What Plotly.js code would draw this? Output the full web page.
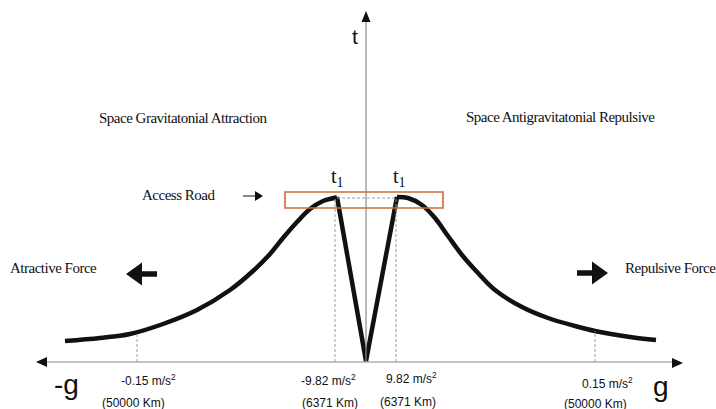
<!DOCTYPE html>
<html><head><meta charset="utf-8">
<script src="https://cdn.plot.ly/plotly-3.0.1.min.js"></script>
<style>html,body{margin:0;padding:0;background:#fff}#chart{width:716px;height:409px}</style>
</head><body><div id="chart"></div>
<script>
// x: position along the g axis (left = attraction, right = repulsion), t: time height
const leftCurveX  = [-301,-266,-236,-203,-169,-136,-113,-96,-83,-69,-56,-43,-32,-29];
const leftCurveT  = [21,24,28,38,52,72,91,108,124,140,153,161,164,165];
const accessX     = [-29, 0, 31];
const accessT     = [165, 1, 165];
const rightCurveX = [31,42,56,69,82,96,112,129,156,182,209,229,264,290];
const rightCurveT = [165,164,157,144,126,107,89,72,55,44,36,31,25,22];

// tick marks on the g axis
const tickX      = [-229, -31, 30, 229];
const tickTop    = [30, 163, 163, 31];
const tickAccel  = ['-0.15 m/s<sup>2</sup>', '-9.82 m/s<sup>2</sup>', '9.82 m/s<sup>2</sup>', '0.15 m/s<sup>2</sup>'];
const tickAccelX = [-218, -38, 45, 241];
const tickAccelT = [-18, -18, -16, -21];
const tickDist   = ['(50000 Km)', '(6371 Km)', '(6371 Km)', '(50000 Km)'];
const tickDistX  = [-233, -36, 42, 229];
const tickDistT  = [-41, -41, -40, -42];

// t1 labels
const t1X = [-29, 33];
const t1T = [185, 185];

// region labels
const regionText = ['Space Gravitatonial Attraction', 'Space Antigravitatonial Repulsive', 'Access Road', 'Atractive Force', 'Repulsive Force'];
const regionX    = [-183, 194, -188, -313, 304];
const regionT    = [244, 245, 167, 94, 94];

// access road box
const boxX = [-81, 77];
const boxT = [154, 170];

// block arrows: tip x, tip t, direction (-1 left, +1 right)
const forceArrowX   = [-240, 242];
const forceArrowT   = [88, 89];
const forceArrowDir = [-1, 1];

const traces = [];
const shapes = [];
const ann = [];
const grey = '#8a8a8a';

// axes
shapes.push({type:'line', x0:-326, x1:313, y0:0, y1:0, line:{color:grey, width:1.2}});
shapes.push({type:'line', x0:0, x1:0, y0:0, y1:342, line:{color:grey, width:1.2}});
function tri(pts){ return {type:'path', path:'M'+pts.map(p=>p[0]+','+p[1]).join('L')+'Z', fillcolor:'#111', line:{width:0}}; }
shapes.push(tri([[-330,0],[-319,5],[-319,-5]]));
shapes.push(tri([[317,-1],[306,4],[306,-6]]));
shapes.push(tri([[0,351],[-4.5,340],[4.5,340]]));

// dashed guides
tickX.forEach((x,i)=>shapes.push({type:'line', x0:x, x1:x, y0:0, y1:tickTop[i], line:{color:'#9a9a9a', width:1, dash:'3px,2px'}}));
shapes.push({type:'line', x0:-29, x1:29, y0:164, y1:164, line:{color:'#9a9a9a', width:1, dash:'3px,2px'}});

// box
shapes.push({type:'rect', x0:boxX[0], x1:boxX[1], y0:boxT[0], y1:boxT[1], line:{color:'#cf6a3c', width:1.6}, fillcolor:'rgba(0,0,0,0)'});

// force arrows
forceArrowX.forEach((x,i)=>{
  const d = forceArrowDir[i], t = forceArrowT[i];
  const hb = x - d*16, se = hb - d*15;
  shapes.push(tri([[x,t],[hb,t+11.5],[hb,t+2.8],[se,t+2.8],[se,t-2.8],[hb,t-2.8],[hb,t-11.5]]));
});
// access road arrow
shapes.push({type:'line', x0:-123, x1:-110, y0:166, y1:166, line:{color:'#111', width:1}});
shapes.push(tri([[-103,166],[-111,171],[-111,161]]));

// curve
traces.push({x:leftCurveX, y:leftCurveT, mode:'lines', line:{color:'#111', width:4.5, shape:'spline', smoothing:1}, hoverinfo:'skip'});
traces.push({x:accessX, y:accessT, mode:'lines', line:{color:'#111', width:4.5}, hoverinfo:'skip'});
traces.push({x:rightCurveX, y:rightCurveT, mode:'lines', line:{color:'#111', width:4.5, shape:'spline', smoothing:1}, hoverinfo:'skip'});

const sans = 'Liberation Sans, Arial, sans-serif';
const serif = 'Liberation Serif, Times New Roman, serif';
function txt(x,y,s,font,size){ ann.push({x:x, y:y, text:s, showarrow:false, xanchor:'center', yanchor:'middle', font:{family:font, size:size, color:'#111'}}); }

tickAccel.forEach((s,i)=>txt(tickAccelX[i], tickAccelT[i], s, sans, 12));
tickDist.forEach((s,i)=>txt(tickDistX[i], tickDistT[i], s, sans, 12));
regionText.forEach((s,i)=>txt(regionX[i], regionT[i], '<span style="letter-spacing:-0.5px">'+s+'</span>', serif, 15));
t1X.forEach((x,i)=>txt(x, t1T[i], 't<sub>1</sub>', serif, 20));
txt(-11, 326, 't', sans, 21);
txt(-300, -22, '-g', sans, 28);
txt(295, -24, 'g', sans, 28);

Plotly.newPlot('chart', traces, {
  width:716, height:409,
  margin:{l:0, r:0, t:0, b:0},
  paper_bgcolor:'#fff', plot_bgcolor:'#fff',
  showlegend:false,
  xaxis:{range:[-366,350], visible:false, fixedrange:true},
  yaxis:{range:[-47,362], visible:false, fixedrange:true},
  shapes:shapes, annotations:ann
}, {displayModeBar:false, staticPlot:true});
</script></body></html>
